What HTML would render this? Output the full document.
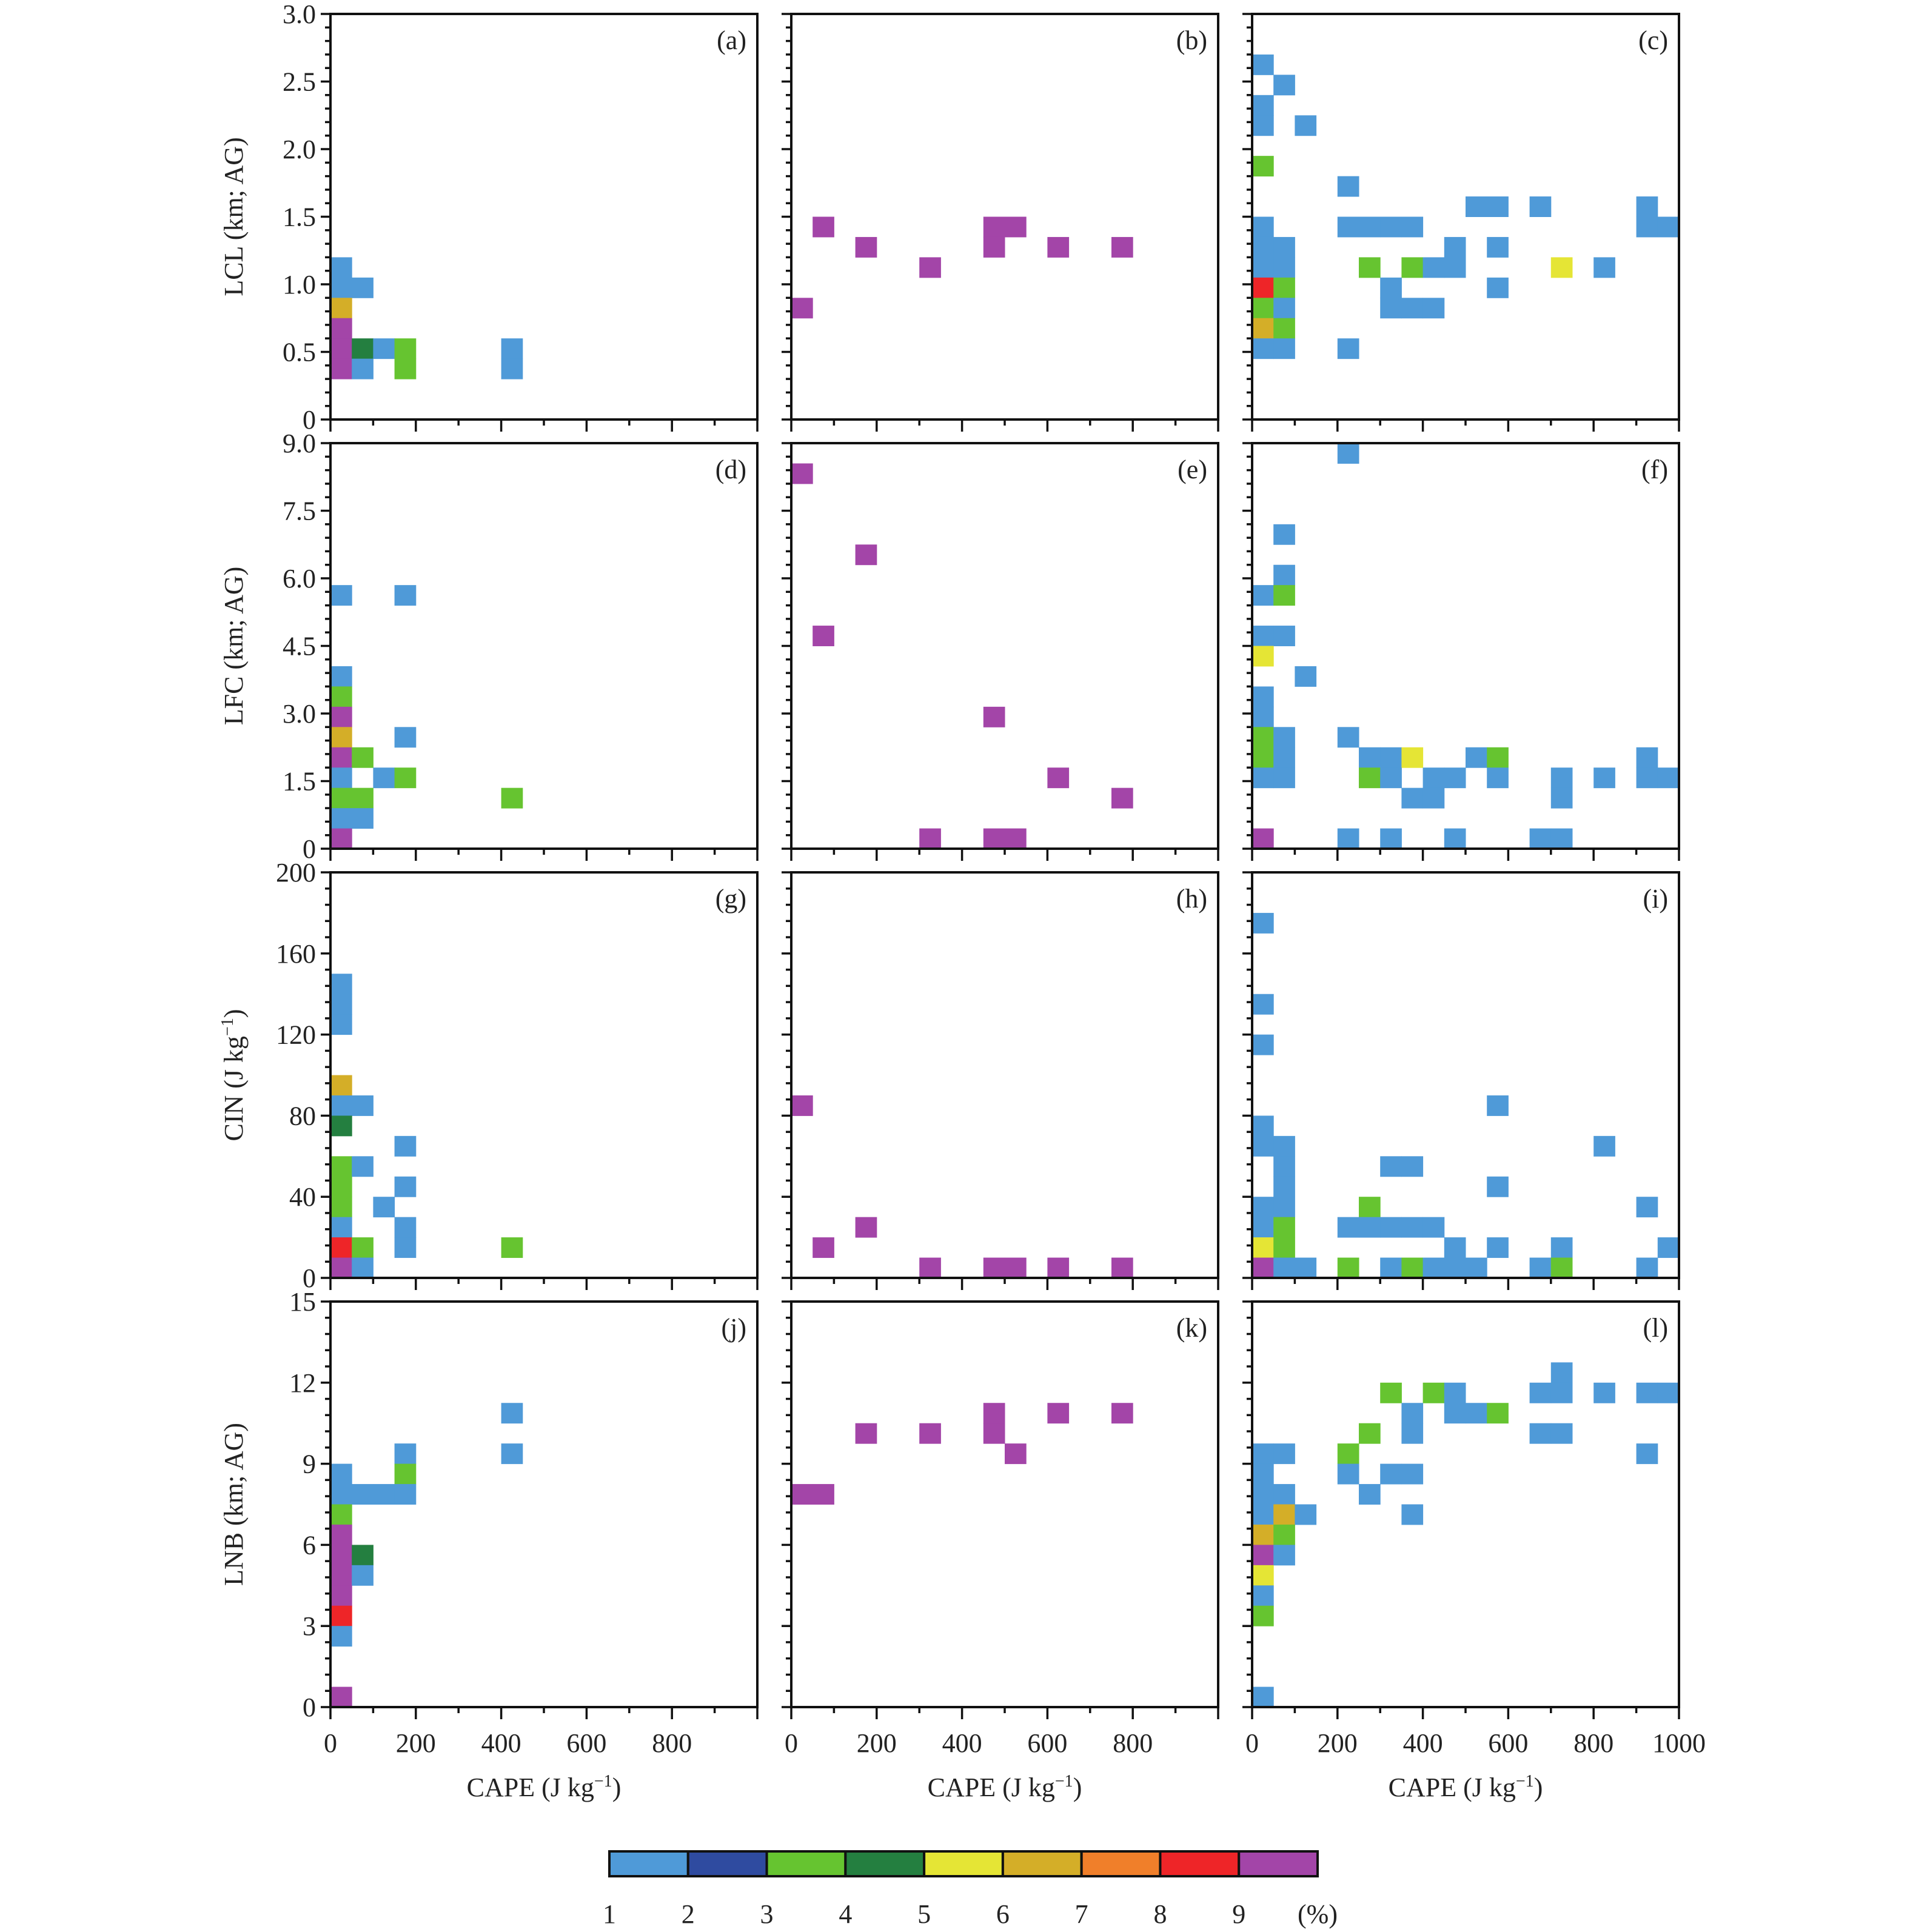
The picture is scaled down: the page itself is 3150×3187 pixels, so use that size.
<!DOCTYPE html>
<html><head><meta charset="utf-8">
<style>
body{margin:0;background:#fff;}
svg{display:block;font-family:"Liberation Serif",serif;}
</style></head>
<body>
<svg id="fig" width="3150" height="3187" viewBox="0 0 3150 3187" xmlns="http://www.w3.org/2000/svg"></svg>
<script>
// ---- data ----
const colors = ["#4f9ad8","#2f4ba0","#66c430","#247f40","#e5e535","#d4ae28","#f07f2a","#ee2528","#a345a8"];
const colorbarLabels = ["1","2","3","4","5","6","7","8","9"];
const xTickLabels = ["0","200","400","600","800","1000"];
const xMax = 1000, xBinWidth = 50;
const rowNames = ["LCL (km; AG)","LFC (km; AG)","CIN","LNB (km; AG)"];
const rowMax = [3.0, 9.0, 200, 15];
const rowBin = [0.15, 0.45, 10, 0.75];
const rowMajor = [0.5, 1.5, 40, 3];
const rowTickLabels = [["0","0.5","1.0","1.5","2.0","2.5","3.0"],["0","1.5","3.0","4.5","6.0","7.5","9.0"],["0","40","80","120","160","200"],["0","3","6","9","12","15"]];
const panelLetters = ["a","b","c","d","e","f","g","h","i","j","k","l"];
// cells: [CAPE bin index, y bin index, class (1-9)]
const cellsA = [[0,7,1],[0,6,1],[1,6,1],[0,5,6],[0,4,9],[0,3,9],[0,2,9],[1,3,4],[1,2,1],[2,3,1],[3,3,3],[3,2,3],[8,3,1],[8,2,1]];
const cellsB = [[0,5,9],[1,9,9],[3,8,9],[6,7,9],[9,9,9],[9,8,9],[10,9,9],[12,8,9],[15,8,9]];
const cellsC = [[0,17,1],[1,16,1],[0,15,1],[0,14,1],[2,14,1],[0,12,3],[4,11,1],[10,10,1],[11,10,1],[13,10,1],[18,10,1],
 [0,9,1],[4,9,1],[5,9,1],[6,9,1],[7,9,1],[18,9,1],[19,9,1],
 [0,8,1],[1,8,1],[9,8,1],[11,8,1],
 [0,7,1],[1,7,1],[5,7,3],[7,7,3],[8,7,1],[9,7,1],[14,7,5],[16,7,1],
 [0,6,8],[1,6,3],[6,6,1],[11,6,1],
 [0,5,3],[1,5,1],[6,5,1],[7,5,1],[8,5,1],
 [0,4,6],[1,4,3],[0,3,1],[1,3,1],[4,3,1]];
const cellsD = [[0,12,1],[3,12,1],[0,8,1],[0,7,3],[0,6,9],[0,5,6],[3,5,1],[0,4,9],[1,4,3],[0,3,1],[2,3,1],[3,3,3],[0,2,3],[1,2,3],[8,2,3],[0,1,1],[1,1,1],[0,0,9]];
const cellsE = [[0,18,9],[3,14,9],[1,10,9],[9,6,9],[12,3,9],[15,2,9],[6,0,9],[9,0,9],[10,0,9]];
const cellsF = [[4,19,1],[1,15,1],[1,13,1],[0,12,1],[1,12,3],[0,10,1],[1,10,1],[0,9,5],[2,8,1],[0,7,1],[0,6,1],
 [0,5,3],[1,5,1],[4,5,1],
 [0,4,3],[1,4,1],[5,4,1],[6,4,1],[7,4,5],[10,4,1],[11,4,3],[18,4,1],
 [0,3,1],[1,3,1],[5,3,3],[6,3,1],[8,3,1],[9,3,1],[11,3,1],[14,3,1],[16,3,1],[18,3,1],[19,3,1],
 [7,2,1],[8,2,1],[14,2,1],
 [0,0,9],[4,0,1],[6,0,1],[9,0,1],[13,0,1],[14,0,1]];
const cellsG = [[0,14,1],[0,13,1],[0,12,1],[0,9,6],[0,8,1],[1,8,1],[0,7,4],[3,6,1],[0,5,3],[1,5,1],[0,4,3],[3,4,1],[0,3,3],[2,3,1],
 [0,2,1],[3,2,1],[0,1,8],[1,1,3],[3,1,1],[8,1,3],[0,0,9],[1,0,1]];
const cellsH = [[0,8,9],[3,2,9],[1,1,9],[6,0,9],[9,0,9],[10,0,9],[12,0,9],[15,0,9]];
const cellsI = [[0,17,1],[0,13,1],[0,11,1],[11,8,1],[0,7,1],[0,6,1],[1,6,1],[16,6,1],[1,5,1],[6,5,1],[7,5,1],[1,4,1],[11,4,1],
 [0,3,1],[1,3,1],[5,3,3],[18,3,1],
 [0,2,1],[1,2,3],[4,2,1],[5,2,1],[6,2,1],[7,2,1],[8,2,1],
 [0,1,5],[1,1,3],[9,1,1],[11,1,1],[14,1,1],[19,1,1],
 [0,0,9],[1,0,1],[2,0,1],[4,0,3],[6,0,1],[7,0,3],[8,0,1],[9,0,1],[10,0,1],[13,0,1],[14,0,3],[18,0,1]];
const cellsJ = [[8,14,1],[8,12,1],[3,12,1],[3,11,3],[0,11,1],[0,10,1],[1,10,1],[2,10,1],[3,10,1],[0,9,3],
 [0,8,9],[0,7,9],[1,7,4],[0,6,9],[1,6,1],[0,5,9],[0,4,8],[0,3,1],[0,0,9]];
const cellsK = [[0,10,9],[1,10,9],[3,13,9],[6,13,9],[9,13,9],[9,14,9],[10,12,9],[12,14,9],[15,14,9]];
const cellsL = [[14,16,1],[6,15,3],[8,15,3],[9,15,1],[13,15,1],[14,15,1],[16,15,1],[18,15,1],[19,15,1],
 [7,14,1],[9,14,1],[10,14,1],[11,14,3],
 [5,13,3],[7,13,1],[13,13,1],[14,13,1],
 [0,12,1],[1,12,1],[4,12,3],[18,12,1],
 [0,11,1],[4,11,1],[6,11,1],[7,11,1],
 [0,10,1],[1,10,1],[5,10,1],
 [0,9,1],[1,9,6],[2,9,1],[7,9,1],
 [0,8,6],[1,8,3],[0,7,9],[1,7,1],[0,6,5],[0,5,1],[0,4,3],[0,0,1]];
const allCells = [cellsA,cellsB,cellsC,cellsD,cellsE,cellsF,cellsG,cellsH,cellsI,cellsJ,cellsK,cellsL];

// ---- layout ----
const NS = "http://www.w3.org/2000/svg";
const svg = document.getElementById("fig");
const colLeft = [545, 1305, 2065], pw = 704;
const rowTop = [23, 731, 1439, 2147], ph = 669;
function el(tag, attrs, parent){
  const e = document.createElementNS(NS, tag);
  for (const k in attrs) e.setAttribute(k, attrs[k]);
  (parent||svg).appendChild(e); return e;
}
for (let r=0;r<4;r++){
  for (let c=0;c<3;c++){
    const idx = r*3+c;
    const x0 = colLeft[c], y0 = rowTop[r];
    const g = el("g",{});
    
    
    const xs = v => x0 + v/xMax*pw;
    const ys = v => y0 + ph - v/rowMax[r]*ph;
    allCells[idx].forEach(cell=>{
      const xa = xs(cell[0]*xBinWidth), xb = xs((cell[0]+1)*xBinWidth);
      const yb = ys(cell[1]*rowBin[r]), ya = ys(Math.min((cell[1]+1)*rowBin[r], rowMax[r]));
      const rc = el("rect",{x:xa,y:ya,width:xb-xa+0.5,height:yb-ya+0.5,fill:colors[cell[2]-1]},g);
      
      
    });
    const fr = el("rect",{x:x0,y:y0,width:pw,height:ph,fill:"none",stroke:"#111","stroke-width":4},g);
    
    
    const minor = rowMajor[r]/5;
    const nMinor = Math.round(rowMax[r]/minor);
    for (let k=0;k<=nMinor;k++){
      const yy = ys(k*minor);
      const major = k%5===0;
      el("line",{x1:x0-(major?16:9),x2:x0,y1:yy,y2:yy,stroke:"#111","stroke-width":3.5},g);
    }
    for (let k=0;k<=10;k++){
      const xx = xs(k*100);
      const major = k%2===0;
      el("line",{x1:xx,x2:xx,y1:y0+ph,y2:y0+ph+(major?20:10),stroke:"#111","stroke-width":3.5},g);
    }
    if (c===0){
      rowTickLabels[r].forEach((lab,k)=>{
        const t = el("text",{x:x0-24,y:ys(k*rowMajor[r])+15,"text-anchor":"end","font-size":44,fill:"#222"},g);
        t.textContent = lab;
        
        
      });
      const cy = y0+ph/2;
      const yt = el("text",{x:0,y:0,"text-anchor":"middle","font-size":44,fill:"#222",transform:`translate(400,${cy}) rotate(-90)`},g);
      if (r===2){ yt.innerHTML = 'CIN (J kg<tspan dy="-16" font-size="28">−1</tspan><tspan dy="16">)</tspan>'; }
      else yt.textContent = rowNames[r];
      
      
    }
    if (r===3){
      const labs = c===2 ? xTickLabels : xTickLabels.slice(0,5);
      labs.forEach((lab,k)=>{
        const t = el("text",{x:xs(k*200),y:y0+ph+74,"text-anchor":"middle","font-size":44,fill:"#222"},g);
        t.textContent = lab;
        
        
      });
      const xt = el("text",{x:x0+pw/2,y:y0+ph+147,"text-anchor":"middle","font-size":44,fill:"#222"},g);
      xt.innerHTML = 'CAPE (J kg<tspan dy="-16" font-size="28">−1</tspan><tspan dy="16">)</tspan>';
      
      
    }
    const pl = el("text",{x:x0+pw-18,y:y0+58,"text-anchor":"end","font-size":44,fill:"#222"},g);
    pl.textContent = "("+panelLetters[idx]+")";
    
    
  }
}
const cb = el("g",{});


const cbX = 1005, cbW = 1168, cbY = 3054, cbH = 41, bw = cbW/colors.length;
colors.forEach((col,k)=>{
  const r = el("rect",{x:cbX+k*bw,y:cbY,width:bw,height:cbH,fill:col,stroke:"#111","stroke-width":4},cb);
  
  
});
colorbarLabels.forEach((lab,k)=>{
  const t = el("text",{x:cbX+k*bw,y:3172,"text-anchor":"middle","font-size":44,fill:"#222"},cb);
  t.textContent = lab;
  
  
});
const pct = el("text",{x:cbX+cbW,y:3172,"text-anchor":"middle","font-size":44,fill:"#222"},cb);
pct.textContent = "(%)";


</script>
</body></html>
